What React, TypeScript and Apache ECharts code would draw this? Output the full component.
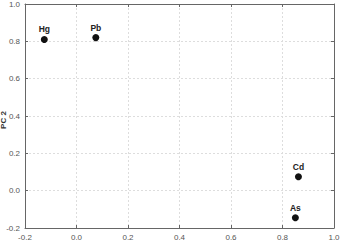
import React, { useEffect, useRef } from "react";
import * as echarts from "echarts";

const names = ["Hg", "Pb", "Cd", "As"];
const pc1 = [-0.125, 0.075, 0.862, 0.85];
const pc2 = [0.81, 0.82, 0.075, -0.145];
const xTicks = [-0.2, 1.0];
const yTicks = [-0.2, 1.0];

export default function App() {
  const ref = useRef<HTMLDivElement>(null);
  useEffect(() => {
    const chart = echarts.init(ref.current!, null, { renderer: "svg" });
    const axisCommon = {
      interval: 0.2,
      axisLine: { show: true, onZero: false, lineStyle: { color: "#666", width: 1 } },
      axisTick: { show: true, inside: true, length: 3, lineStyle: { color: "#666" } },
    };
    const fmt = (v: number) => v.toFixed(1);
    chart.setOption({
      animation: false,
      grid: { left: 25, right: 8, top: 4, bottom: 22, containLabel: false, outerBoundsMode: "none" },
      xAxis: [
        {
          ...axisCommon,
          type: "value",
          min: xTicks[0],
          max: xTicks[1],
          position: "bottom",
          axisLabel: { color: "#555", fontSize: 8, fontFamily: "Liberation Sans", formatter: fmt, margin: 5 },
          splitLine: { show: true, lineStyle: { color: "#ddd", type: [2, 2], width: 1 } },
        },
        {
          ...axisCommon,
          type: "value",
          min: xTicks[0],
          max: xTicks[1],
          position: "top",
          axisLabel: { show: false },
          splitLine: { show: false },
        },
      ],
      yAxis: [
        {
          ...axisCommon,
          type: "value",
          min: yTicks[0],
          max: yTicks[1],
          position: "left",
          name: "PC 2",
          nameLocation: "middle",
          nameGap: 18,
          nameMoveOverlap: false,
          nameTextStyle: { color: "#333", fontSize: 8, fontWeight: "bold", fontFamily: "Liberation Sans", padding: [0, 8, 0, 0] },
          axisLabel: { color: "#555", fontSize: 8, fontFamily: "Liberation Sans", formatter: fmt, margin: 5 },
          splitLine: { show: true, lineStyle: { color: "#ddd", type: [2, 2], width: 1 } },
        },
        {
          ...axisCommon,
          type: "value",
          min: yTicks[0],
          max: yTicks[1],
          position: "right",
          axisLabel: { show: false },
          splitLine: { show: false },
        },
      ],
      series: [
        {
          type: "scatter",
          symbol: "circle",
          symbolSize: 7,
          itemStyle: { color: "#111", opacity: 1 },
          data: names.map((n, i) => ({ name: n, value: [pc1[i], pc2[i]] })),
          label: {
            show: true,
            position: "top",
            distance: 2,
            formatter: (p: any) => p.name,
            color: "#222",
            fontSize: 8.5,
            fontWeight: "bold",
            fontFamily: "Liberation Sans",
          },
        },
      ],
    });
    return () => chart.dispose();
  }, []);
  return <div ref={ref} style={{ width: 342, height: 250, position: "absolute", left: 0, top: 0 }} />;
}
